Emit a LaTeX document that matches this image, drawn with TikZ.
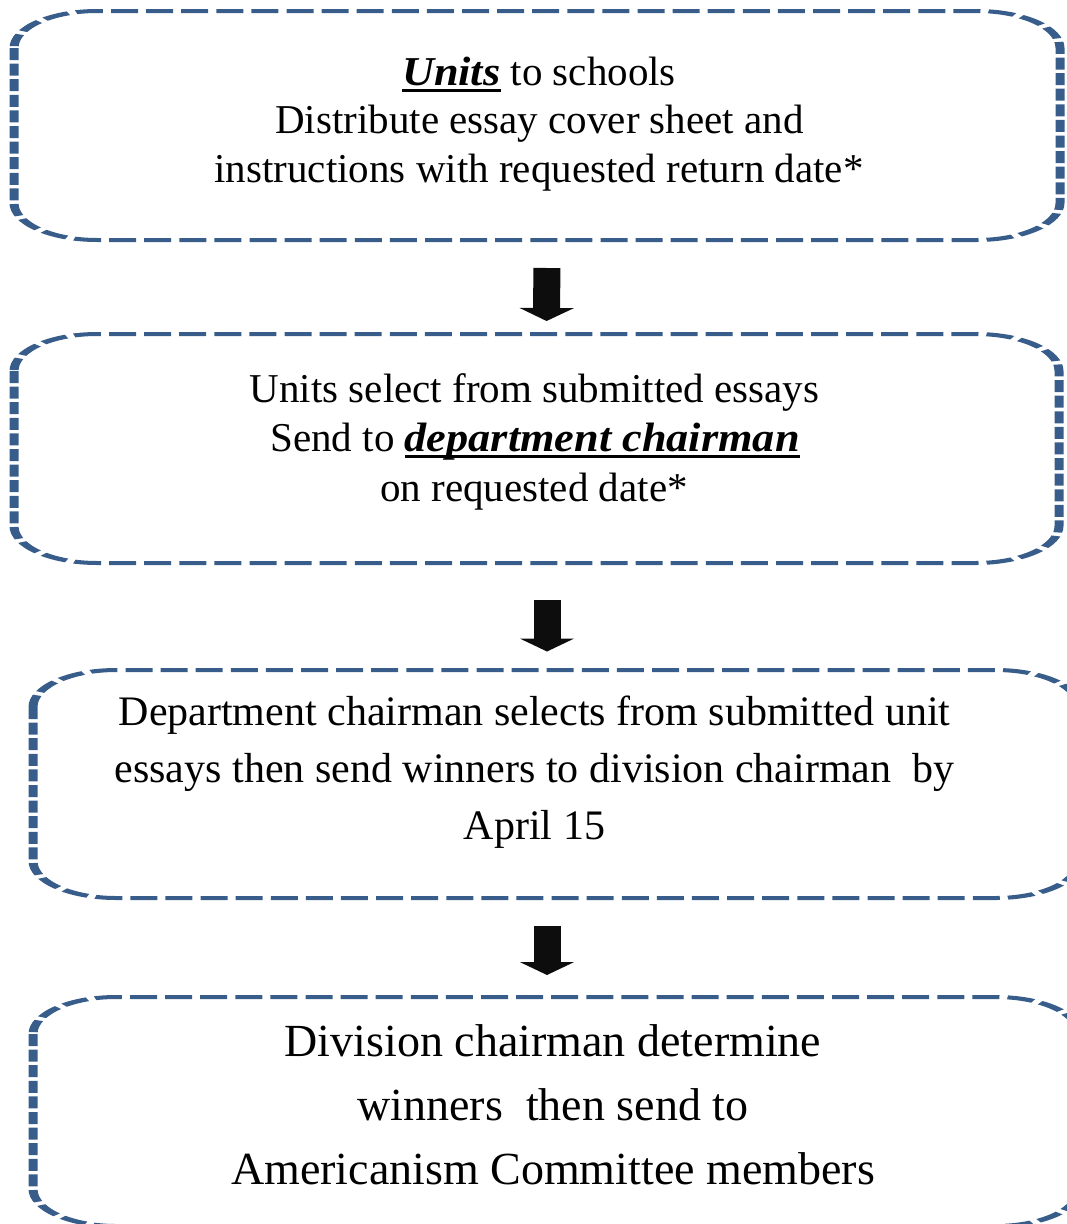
\documentclass[tikz,border=0pt]{standalone}
\usepackage{fontspec}
\setmainfont{Liberation Serif}
\usetikzlibrary{arrows.meta}
\definecolor{boxblue}{RGB}{56,93,138}
\definecolor{arrowblack}{RGB}{13,13,13}
\newcommand{\myul}[1]{\setbox0\hbox{#1}\leavevmode\rlap{\rule[-7pt]{\wd0}{3.5pt}}\box0\relax}
\newcommand{\bi}[1]{\scalebox{1.08}[1]{\textbf{\textit{#1}}}}
\begin{document}
\begin{tikzpicture}[x=1pt,y=-1pt,
  boxgeom/.style={draw=none,inner sep=0pt,outer sep=0pt,minimum width=1046pt,minimum height=229pt},
  dbox/.style={draw=boxblue,line width=4pt,rounded corners=37pt,dash pattern=on 12pt off 3.6pt},
  txta/.style={anchor=base,inner sep=0pt,font=\fontsize{41}{48}\selectfont},
  txtb/.style={anchor=base,inner sep=0pt,font=\fontsize{42}{57}\selectfont},
  txtc/.style={anchor=base,inner sep=0pt,font=\fontsize{46}{64}\selectfont},
  arr/.style={draw=arrowblack,line width=27pt,-{Triangle[width=54pt,length=13pt]}}]
\useasboundingbox (0,0) rectangle (1067,1224);
% box geometry (named nodes)
\node[boxgeom] (b1) at (537,125.5) {};
\node[boxgeom] (b2) at (536.5,448.5) {};
\node[boxgeom] (b3) at (556,784) {};
\node[boxgeom] (b4) at (556,1111.5) {};
% dashed borders (shape stretched horizontally)
\begin{scope}[transform canvas={xscale=2.25}]
  \draw[dbox] ({14/2.25},11) rectangle ({1060/2.25},240);
  \draw[dbox] ({14/2.25},334) rectangle ({1059/2.25},563);
  \draw[dbox] ({33/2.25},670) rectangle ({1079/2.25},898);
  \draw[dbox] ({33/2.25},997) rectangle ({1079/2.25},1226);
\end{scope}
% texts
\node[txta] (t1a) at (539,85) {\myul{\bi{Units}} to schools};
\node[txta] (t1b) at (539.5,133) {Distribute essay cover sheet and};
\node[txta] (t1c) at (539,182) {instructions with requested return date*};
\node[txta] (t2a) at (534.5,402) {Units select from submitted essays};
\node[txta] (t2b) at (535,451) {Send to \myul{\bi{department chairman}}};
\node[txta] (t2c) at (534,501) {on requested date*};
\node[txtb] (t3a) at (534.5,725) {Department chairman selects from submitted unit};
\node[txtb] (t3b) at (534.5,782) {essays then send winners to division chairman\ \ by};
\node[txtb] (t3c) at (534.5,839) {April 15};
\node[txtc] (t4a) at (553,1056) {Division chairman determine};
\node[txtc] (t4b) at (553,1120) {winners\ \ then send to};
\node[txtc] (t4c) at (553,1184) {Americanism Committee members};
% arrows
\draw[arr,shorten <=28pt,shorten >=13pt] ([xshift=10pt]b1.south) -- ([xshift=10pt]b2.north);
\draw[arr,shorten <=37pt,shorten >=18pt] ([xshift=10.5pt]b2.south) -- ([xshift=-9pt]b3.north);
\draw[arr,shorten <=27pt,shorten >=22pt] ([xshift=-9pt]b3.south) -- ([xshift=-9pt]b4.north);
\end{tikzpicture}
\end{document}
